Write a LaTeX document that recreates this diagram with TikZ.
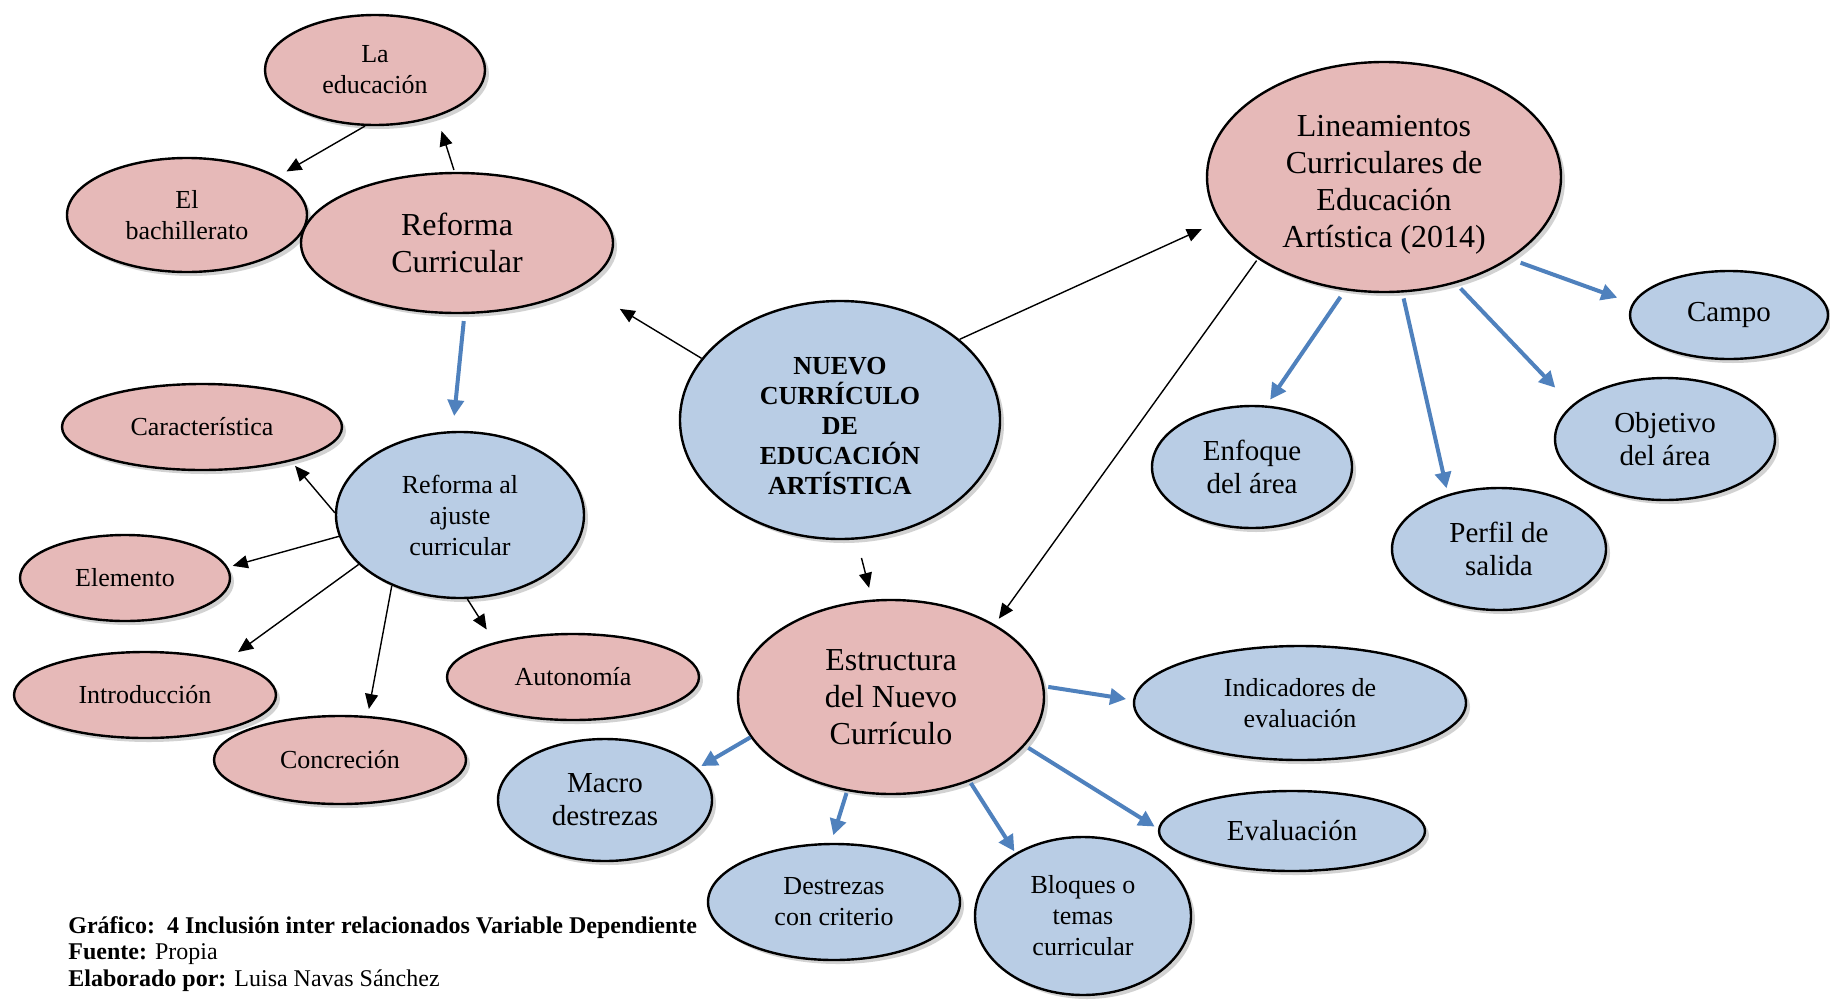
\documentclass[tikz,border=0pt]{standalone}
\usepackage{fontspec}
\setmainfont{Liberation Serif}
\usetikzlibrary{shapes.geometric,shadows,arrows.meta}
\definecolor{pinkc}{HTML}{E6B9B8}
\definecolor{bluec}{HTML}{B9CDE5}
\definecolor{arrowblue}{HTML}{4F81BD}
\begin{document}
\begin{tikzpicture}[x=0.5pt,y=-0.5pt,
  bubble/.style={ellipse, draw=black, line width=1.2pt, inner sep=0pt, align=center,
    drop shadow={shadow xshift=2pt, shadow yshift=-2pt, fill=black!35}},
  pinkb/.style={bubble, fill=pinkc},
  blueb/.style={bubble, fill=bluec},
  sz/.style 2 args={minimum width=#1pt, minimum height=#2pt},
  fs/.style={font=\fontsize{13}{15.5}\selectfont},
  fm/.style={font=\fontsize{14.5}{16.5}\selectfont},
  fl/.style={font=\fontsize{16}{18.5}\selectfont},
  fb/.style={font=\fontsize{13}{15}\selectfont\bfseries},
  fcap/.style={font=\fontsize{12}{13.5}\selectfont, anchor=base west, inner sep=0pt},
  blk/.style={draw=black, line width=0.7pt, -{Triangle[length=7.5pt,width=6.5pt]}},
  blu/.style={draw=arrowblue, line width=2pt, -{Triangle[length=8pt,width=8pt]}}
]
\fill[white] (0,0) rectangle (1830,1001);
\useasboundingbox (0,0) rectangle (1830,1001);

% left group
\node[pinkb, fs, sz={110}{55}] (ed) at (375,70) {La\\educación};
\node[pinkb, fs, sz={120}{57}] (bach) at (187,215) {El\\bachillerato};
\node[pinkb, fl, sz={156}{70}] (refc) at (457,243) {Reforma\\Curricular};
\node[pinkb, fs, sz={140}{43}] (car) at (202,427) {Característica};
\node[blueb, fs, sz={124}{83}] (aju) at (460,515) {Reforma al\\ajuste\\curricular};
\node[pinkb, fs, sz={105}{43}] (elem) at (125,578) {Elemento};
\node[pinkb, fs, sz={131}{43}] (intro) at (145,695) {Introducción};
\node[pinkb, fs, sz={126}{44}] (conc) at (340,760) {Concreción};
\node[pinkb, fs, sz={126}{43}] (auto) at (573,677) {Autonomía};

% center
\node[blueb, fb, sz={160}{119}] (nuevo) at (840,420) {\rule{0pt}{15pt}NUEVO\\CURRÍCULO\\DE\\EDUCACIÓN\\ARTÍSTICA};

% right group
\node[pinkb, fl, sz={177}{115}] (lin) at (1384,177) {\rule{0pt}{18pt}Lineamientos\\Curriculares de\\Educación\\Artística (2014)};
\node[blueb, fm, sz={99}{44}] (campo) at (1729,315) {Campo};
\node[blueb, fm, sz={110}{61}] (obj) at (1665,439) {Objetivo\\del área};
\node[blueb, fm, sz={100}{61}] (enf) at (1252,467) {Enfoque\\del área};
\node[blueb, fm, sz={107}{61}] (perf) at (1499,549) {Perfil de\\salida};

% bottom group
\node[pinkb, fl, sz={153}{97}] (est) at (891,697) {Estructura\\del Nuevo\\Currículo};
\node[blueb, fs, sz={166}{57}] (ind) at (1300,703) {Indicadores de\\evaluación};
\node[blueb, fm, sz={133}{40}] (eval) at (1292,831) {Evaluación};
\node[blueb, fm, sz={107}{61}] (macro) at (605,800) {Macro\\destrezas};
\node[blueb, fs, sz={126}{58}] (dest) at (834,902) {Destrezas\\con criterio};
\node[blueb, fs, sz={108}{79}] (bloq) at (1083,916) {Bloques o\\temas\\curricular};

% black connectors
\draw[blk, shorten >=22pt] (nuevo.156) -- (refc.-19);
\draw[blk, shorten >=9.5pt] (nuevo.34) -- (lin.-165);
\draw[blk, shorten <=9.5pt, shorten >=6pt] (nuevo.-82) -- (est.101);
\draw[blk, shorten <=1pt, shorten >=3.5pt] (lin.-147) -- (est.35);
\draw[blk, shorten <=1pt, shorten >=7.5pt] (refc.92) -- (ed.-37);
\draw[blk, shorten >=5pt] (ed.-100) -- (bach.23);
\draw[blk, shorten >=3pt] (aju.179) -- (car.-21);
\draw[blk, shorten >=2.5pt] (aju.-170) -- (elem.6);
\draw[blk, shorten >=7pt] (aju.-154) -- (intro.23);
\draw[blk, shorten >=3.5pt] (aju.-134) -- (conc.58);
\draw[blk, shorten >=7.5pt] (aju.-85) -- (auto.156);

% blue connectors
\draw[blu, shorten <=3.5pt, shorten >=7.5pt] (refc.-84) -- (aju.95);
\draw[blu, shorten <=5.5pt, shorten >=8pt] (lin.-33) -- (campo.173);
\draw[blu, shorten <=3.5pt, shorten >=12pt] (lin.-56) -- (obj.160);
\draw[blu, shorten <=3pt, shorten >=3pt] (lin.-81) -- (perf.133);
\draw[blu, shorten <=4pt, shorten >=3.5pt] (lin.-109) -- (enf.77);
\draw[blu, shorten <=2pt, shorten >=3.5pt] (est.4) -- (ind.179);
\draw[blu, shorten <=2pt, shorten >=2pt] (est.-20) -- (eval.179);
\draw[blu, shorten <=1pt, shorten >=1pt] (est.-47) -- (bloq.137);
\draw[blu, shorten <=1pt, shorten >=4pt] (est.-115) -- (dest.93);
\draw[blu, shorten >=2pt] (est.-164) -- (macro.19);

% caption
\node[fcap] (cap1) at (68,933) {\textbf{Gráfico:\ \ 4 Inclusión inter relacionados Variable Dependiente}};
\node[fcap] (cap2) at (68,959) {\textbf{Fuente:} Propia};
\node[fcap] (cap3) at (68,986) {\textbf{Elaborado por:} Luisa Navas Sánchez};
\end{tikzpicture}
\end{document}
